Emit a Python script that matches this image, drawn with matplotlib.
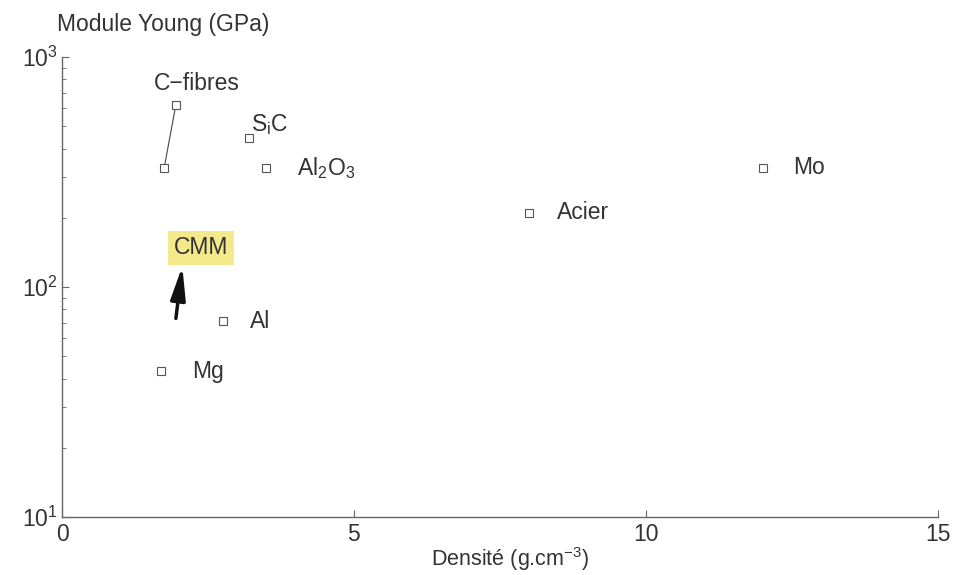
import matplotlib
matplotlib.use('Agg')
import matplotlib.pyplot as plt
import numpy as np

plt.rcParams['font.family'] = ['Liberation Sans', 'DejaVu Sans']
plt.rcParams['mathtext.fontset'] = 'custom'
plt.rcParams['mathtext.rm'] = 'Liberation Sans'
plt.rcParams['mathtext.it'] = 'Liberation Sans'

# materiaux : densite (g/cm3) et module d'Young (GPa)
noms = ['C-fibres', 'SiC', 'Al2O3', 'Mo', 'Acier', 'Al', 'Mg']
densite = [1.75, 3.2, 3.5, 12.0, 8.0, 2.75, 1.7]
module = [330, 445, 330, 330, 210, 71, 43]
# second point des fibres de carbone (relie au premier)
fibres_x = [1.75, 1.95]
fibres_y = [330, 620]

etiquettes = {
    'C-fibres': ('C\u2212fibres', 2.31, 770, 'center'),
    'SiC': ('S$_\\mathregular{i}$C', 3.24, 510, 'left'),
    'Al2O3': ('Al$_\\mathregular{2}$O$_\\mathregular{3}$', 4.02, 330, 'left'),
    'Mo': ('Mo', 12.52, 330, 'left'),
    'Acier': ('Acier', 8.48, 210, 'left'),
    'Al': ('Al', 3.22, 71, 'left'),
    'Mg': ('Mg', 2.23, 43, 'left'),
}

txt = '#333333'
fs = 16.5
fig = plt.figure(figsize=(9.57, 5.75), dpi=100)
ax = fig.add_axes([0.0648, 0.1009, 0.9152, 0.8])

ax.plot(fibres_x, fibres_y, '-', color='#444444', lw=0.8)
ax.plot(densite, module, 's', ls='none', mfc='white', mec='#555555',
        mew=0.8, ms=6)
ax.plot(fibres_x[1:], fibres_y[1:], 's', mfc='white', mec='#555555',
        mew=0.8, ms=6)

for n in noms:
    t, x, y, ha = etiquettes[n]
    ax.text(x, y, t, ha=ha, va='center', fontsize=fs, color=txt)

ax.text(2.38, 148, 'CMM', ha='center', va='center', fontsize=fs, color=txt,
        bbox=dict(boxstyle='square,pad=0.25', fc='#f3e98a', ec='none'))
ax.annotate('', xy=(2.06, 123), xytext=(1.95, 73),
            arrowprops=dict(arrowstyle='-|>,head_width=0.45,head_length=2.0',
                            color='#111111', lw=2.5, shrinkA=0, shrinkB=0))

ax.set_yscale('log')
ax.set_xlim(0, 15)
ax.set_ylim(10, 1000)
ax.set_xticks([0, 5, 10, 15])
ax.spines['top'].set_visible(False)
ax.spines['right'].set_visible(False)
for s in ['left', 'bottom']:
    ax.spines[s].set_color('#666666')
    ax.spines[s].set_linewidth(1.0)
ax.tick_params(direction='in', colors='#666666', labelcolor=txt,
               labelsize=fs, length=5)
ax.tick_params(which='minor', direction='in', colors='#666666', length=3)
ax.xaxis.set_tick_params(pad=4)
ax.yaxis.set_tick_params(pad=3)

fig.text(0.533, 0.028, 'Densit\u00e9 (g.cm$^{\\mathregular{-3}}$)',
         fontsize=15.5, color=txt, ha='center', va='center')
fig.text(0.06, 0.957, 'Module Young (GPa)', fontsize=fs, color=txt,
         ha='left', va='center')

fig.savefig('out.png', dpi=100)
